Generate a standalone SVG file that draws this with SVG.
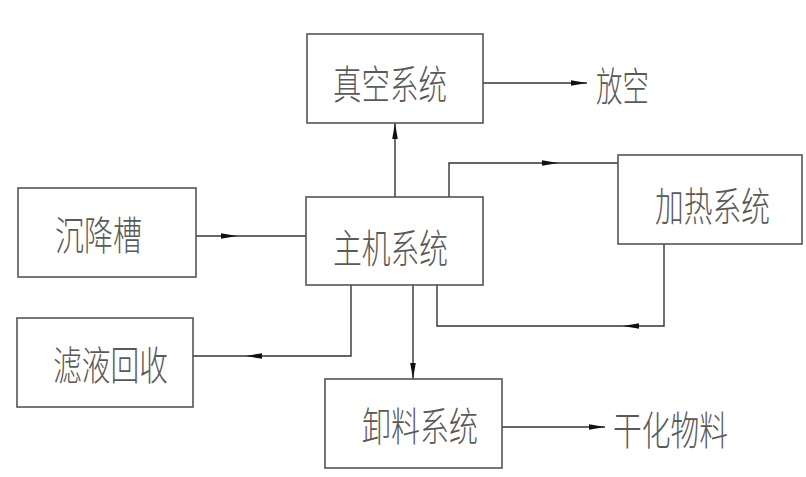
<svg xmlns="http://www.w3.org/2000/svg" width="806" height="477" viewBox="0 0 806 477">
<style>
.box{fill:#fff;stroke:#555;stroke-width:1.6}
.ln{fill:none;stroke:#333;stroke-width:1.4}
.t{font-family:"Noto Sans CJK SC","Noto Sans",sans-serif;font-size:40px;fill:#595959;dominant-baseline:central;font-weight:300}
</style>
<defs>
<marker id="ah" markerUnits="userSpaceOnUse" markerWidth="18" markerHeight="8" refX="16" refY="4" orient="auto">
<path d="M0,1.2 L16,4 L0,6.8 z" fill="#111"/>
</marker>
</defs>
<rect width="806" height="477" fill="#fff"/>
<g id="connectors">
<line class="ln" x1="483" y1="83" x2="587" y2="83" marker-end="url(#ah)"/>
<line class="ln" x1="196" y1="236" x2="237" y2="236" marker-end="url(#ah)"/>
<line class="ln" x1="237" y1="236" x2="306" y2="236"/>
<line class="ln" x1="395" y1="197" x2="395" y2="123" marker-end="url(#ah)"/>
<polyline class="ln" points="449,197 449,163 558,163" marker-end="url(#ah)"/>
<line class="ln" x1="558" y1="163" x2="618" y2="163"/>
<polyline class="ln" points="664,244 664,326 623,326" marker-end="url(#ah)"/>
<polyline class="ln" points="623,326 437,326 437,285"/>
<polyline class="ln" points="351,285 351,356 246,356" marker-end="url(#ah)"/>
<line class="ln" x1="246" y1="356" x2="193" y2="356"/>
<line class="ln" x1="413" y1="285" x2="413" y2="379" marker-end="url(#ah)"/>
<line class="ln" x1="502" y1="427" x2="605" y2="427" marker-end="url(#ah)"/>
</g>
<g id="vacuum"><rect class="box" x="307" y="34" width="176" height="89"/><text class="t" x="333" y="82" textLength="114" lengthAdjust="spacingAndGlyphs">真空系统</text></g>
<g id="vent"><text class="t" x="596" y="84" textLength="53" lengthAdjust="spacingAndGlyphs">放空</text></g>
<g id="main"><rect class="box" x="306" y="197" width="177" height="88"/><text class="t" x="333" y="246" textLength="115" lengthAdjust="spacingAndGlyphs">主机系统</text></g>
<g id="settling"><rect class="box" x="18" y="188" width="178" height="89"/><text class="t" x="55" y="233" textLength="87" lengthAdjust="spacingAndGlyphs">沉降槽</text></g>
<g id="heating"><rect class="box" x="618" y="155" width="184" height="89"/><text class="t" x="655" y="204" textLength="115" lengthAdjust="spacingAndGlyphs">加热系统</text></g>
<g id="filtrate"><rect class="box" x="17" y="318" width="176" height="89"/><text class="t" x="53" y="363" textLength="115" lengthAdjust="spacingAndGlyphs">滤液回收</text></g>
<g id="discharge"><rect class="box" x="325" y="379" width="177" height="89"/><text class="t" x="362" y="424" textLength="116" lengthAdjust="spacingAndGlyphs">卸料系统</text></g>
<g id="dried"><text class="t" x="613" y="428" textLength="115" lengthAdjust="spacingAndGlyphs">干化物料</text></g>
</svg>
